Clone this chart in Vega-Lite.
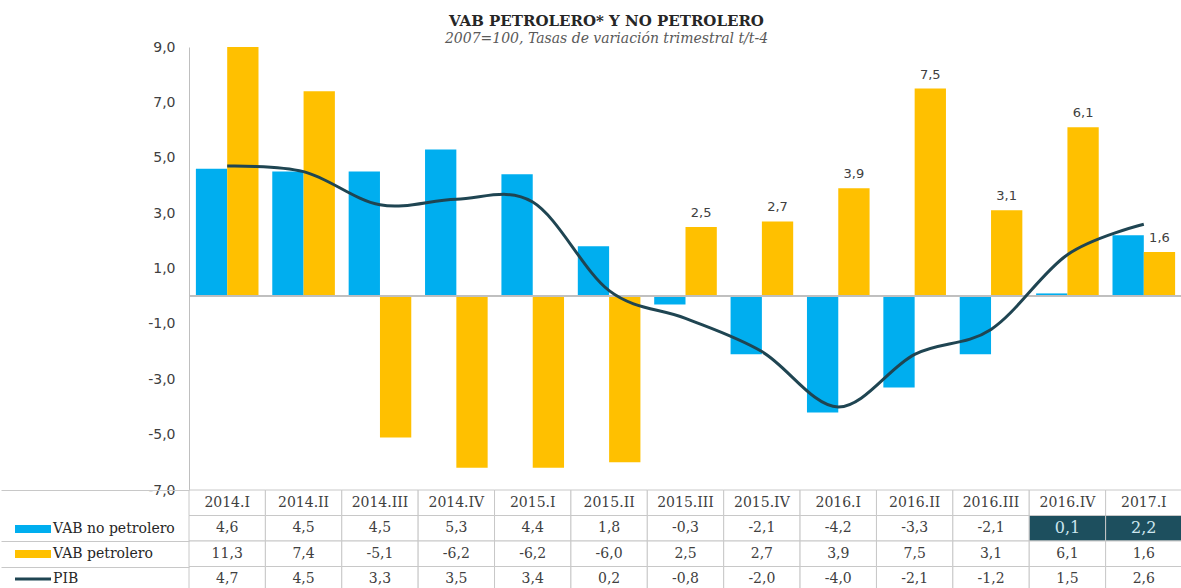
{
  "$schema": "https://vega.github.io/schema/vega-lite/v6.json",
  "padding": {"left": 0, "top": 14, "right": 0, "bottom": 0},
  "background": "white",
  "spacing": 0,
  "bounds": "flush",
  "config": {
    "locale": {"number": {"decimal": ",", "thousands": ".", "grouping": [3], "currency": ["", " €"], "minus": "-"}},
    "view": {"stroke": null}
  },
  "title": {
    "text": "VAB PETROLERO* Y NO PETROLERO",
    "subtitle": "2007=100, Tasas de variación trimestral t/t-4",
    "anchor": "middle",
    "dx": 15,
    "font": "DejaVu Serif",
    "fontSize": 15,
    "fontWeight": "bold",
    "color": "#262626",
    "subtitleFont": "DejaVu Serif",
    "subtitleFontSize": 14,
    "subtitleFontStyle": "italic",
    "subtitleColor": "#595959",
    "subtitlePadding": 3,
    "offset": -6
  },
  "datasets": {
    "q": [
      {"quarter": "2014.I", "no_petrolero": 4.6, "petrolero": 11.3, "pib": 4.7},
      {"quarter": "2014.II", "no_petrolero": 4.5, "petrolero": 7.4, "pib": 4.5},
      {"quarter": "2014.III", "no_petrolero": 4.5, "petrolero": -5.1, "pib": 3.3},
      {"quarter": "2014.IV", "no_petrolero": 5.3, "petrolero": -6.2, "pib": 3.5},
      {"quarter": "2015.I", "no_petrolero": 4.4, "petrolero": -6.2, "pib": 3.4},
      {"quarter": "2015.II", "no_petrolero": 1.8, "petrolero": -6.0, "pib": 0.2},
      {"quarter": "2015.III", "no_petrolero": -0.3, "petrolero": 2.5, "pib": -0.8},
      {"quarter": "2015.IV", "no_petrolero": -2.1, "petrolero": 2.7, "pib": -2.0},
      {"quarter": "2016.I", "no_petrolero": -4.2, "petrolero": 3.9, "pib": -4.0},
      {"quarter": "2016.II", "no_petrolero": -3.3, "petrolero": 7.5, "pib": -2.1},
      {"quarter": "2016.III", "no_petrolero": -2.1, "petrolero": 3.1, "pib": -1.2},
      {"quarter": "2016.IV", "no_petrolero": 0.1, "petrolero": 6.1, "pib": 1.5},
      {"quarter": "2017.I", "no_petrolero": 2.2, "petrolero": 1.6, "pib": 2.6}
    ]
  },
  "resolve": {
    "scale": {"color": "independent", "x": "independent", "y": "independent"},
    "legend": {"color": "independent"}
  },
  "vconcat": [
    {
      "width": 993,
      "height": 443,
      "data": {"name": "q"},
      "layer": [
        {
          "transform": [{"fold": ["no_petrolero", "petrolero"], "as": ["serie", "valor"]}],
          "mark": {"type": "bar", "clip": true},
          "encoding": {
            "x": {"field": "quarter", "type": "nominal", "sort": null, "scale": {"paddingInner": 0, "paddingOuter": 0}, "axis": null},
            "xOffset": {"field": "serie", "type": "nominal", "scale": {"paddingInner": 0, "paddingOuter": 0.22}},
            "y": {
              "field": "valor", "type": "quantitative",
              "scale": {"domain": [-7, 9], "nice": false, "zero": false},
              "axis": {
                "values": [-7, -5, -3, -1, 1, 3, 5, 7, 9],
                "format": ".1f", "title": null, "grid": false, "ticks": false,
                "domainColor": "#bfbfbf", "labelPadding": 14, "labelFlush": false, "labelOverlap": false,
                "labelFont": "DejaVu Sans", "labelFontSize": 14, "labelColor": "#404040"
              }
            },
            "color": {
              "field": "serie", "type": "nominal",
              "scale": {"domain": ["no_petrolero", "petrolero"], "range": ["#00aeef", "#ffc000"]},
              "legend": null
            }
          }
        },
        {
          "mark": {"type": "rule", "color": "#bfbfbf", "strokeWidth": 1},
          "encoding": {"y": {"datum": 0}}
        },
        {
          "transform": [
            {"fold": ["petrolero"], "as": ["serie", "valor"]},
            {"filter": "indexof(['2015.III','2015.IV','2016.I','2016.II','2016.III','2016.IV','2017.I'], datum.quarter) >= 0"}
          ],
          "mark": {"type": "text", "baseline": "bottom", "dy": -7, "font": "DejaVu Sans", "fontSize": 13, "color": "#404040"},
          "encoding": {
            "x": {"field": "quarter", "type": "nominal", "sort": null},
            "xOffset": {"datum": "petrolero"},
            "y": {"field": "valor", "type": "quantitative"},
            "text": {"field": "valor", "type": "quantitative", "format": ".1f"}
          }
        },
        {
          "mark": {"type": "line", "interpolate": "cardinal", "color": "#1f4552", "strokeWidth": 3},
          "encoding": {
            "x": {"field": "quarter", "type": "nominal", "sort": null},
            "y": {"field": "pib", "type": "quantitative"}
          }
        }
      ]
    },
    {
      "width": 993,
      "height": 102,
      "data": {"name": "q"},
      "layer": [
        {
          "mark": {"type": "rect", "fill": "white", "stroke": "#c8c8c8", "strokeWidth": 1},
          "encoding": {
            "x": {"field": "quarter", "type": "nominal", "sort": null, "scale": {"paddingInner": 0, "paddingOuter": 0}, "axis": null},
            "y": {
              "datum": "H", "type": "nominal",
              "scale": {"domain": ["H", "no_petrolero", "petrolero", "pib"], "paddingInner": 0, "paddingOuter": 0},
              "axis": {
                "orient": "left", "labels": false, "domain": false, "ticks": true, "tickBand": "extent",
                "tickSize": 188, "title": null, "grid": false,
                "tickColor": {"condition": {"test": "datum.value === 'H'", "value": "transparent"}, "value": "#c8c8c8"}
              }
            }
          }
        },
        {
          "mark": {"type": "text", "font": "DejaVu Serif", "fontSize": 14, "color": "#404040"},
          "encoding": {
            "x": {"field": "quarter", "type": "nominal", "sort": null},
            "y": {"datum": "H", "type": "nominal"},
            "text": {"field": "quarter"}
          }
        },
        {
          "transform": [{"fold": ["no_petrolero", "petrolero", "pib"], "as": ["serie", "valor"]}],
          "mark": {"type": "rect", "stroke": "#c8c8c8", "strokeWidth": 1},
          "encoding": {
            "x": {"field": "quarter", "type": "nominal", "sort": null},
            "y": {"field": "serie", "type": "nominal"},
            "fill": {
              "condition": {"test": "datum.serie === 'no_petrolero' && (datum.quarter === '2016.IV' || datum.quarter === '2017.I')", "value": "#1d4f5e"},
              "value": "white"
            }
          }
        },
        {
          "transform": [{"fold": ["no_petrolero", "petrolero", "pib"], "as": ["serie", "valor"]}],
          "mark": {"type": "text", "font": "DejaVu Serif"},
          "encoding": {
            "x": {"field": "quarter", "type": "nominal", "sort": null},
            "y": {"field": "serie", "type": "nominal"},
            "text": {"field": "valor", "type": "quantitative", "format": ".1f"},
            "color": {
              "condition": {"test": "datum.serie === 'no_petrolero' && (datum.quarter === '2016.IV' || datum.quarter === '2017.I')", "value": "#cde6ee"},
              "value": "#404040"
            },
            "size": {
              "condition": {"test": "datum.serie === 'no_petrolero' && (datum.quarter === '2016.IV' || datum.quarter === '2017.I')", "value": 16},
              "value": 14
            }
          }
        },
        {
          "transform": [{"fold": ["no_petrolero", "petrolero", "pib"], "as": ["serie", "valor"]}],
          "mark": {"type": "point", "filled": true, "opacity": 0},
          "encoding": {
            "x": {"field": "quarter", "type": "nominal", "sort": null},
            "y": {"field": "serie", "type": "nominal"},
            "color": {
              "field": "serie", "type": "nominal",
              "scale": {"domain": ["no_petrolero", "petrolero", "pib"], "range": ["#00aeef", "#ffc000", "#1f4552"]},
              "legend": {
                "orient": "none", "legendX": -174, "legendY": 21,
                "title": null, "direction": "vertical", "padding": 0,
                "symbolType": "M-1,-0.22H1V0.22H-1Z", "symbolSize": 1296,
                "symbolOpacity": 1, "symbolStrokeWidth": 0,
                "labelFont": "DejaVu Serif", "labelFontSize": 14, "labelColor": "#262626",
                "labelOffset": 2, "rowPadding": -9, "labelLimit": 200,
                "labelExpr": "{'no_petrolero': 'VAB no petrolero', 'petrolero': 'VAB petrolero', 'pib': 'PIB'}[datum.value]",
                "encode": {"symbols": {"update": {"shape": {"signal": "datum.value === 'pib' ? 'M-1,-0.08H1V0.08H-1Z' : 'M-1,-0.22H1V0.22H-1Z'"}}}}
              }
            }
          }
        }
      ]
    }
  ]
}
